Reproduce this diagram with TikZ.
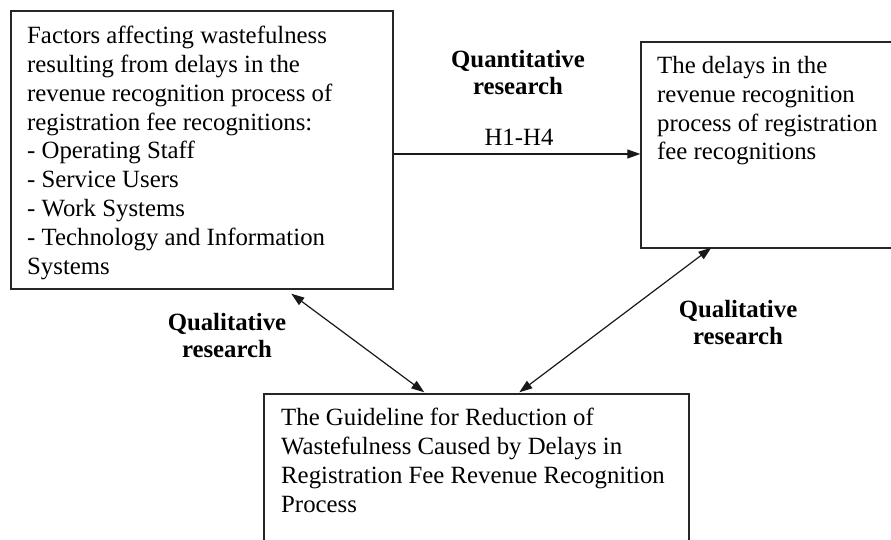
\documentclass[tikz,border=0pt]{standalone}
\usepackage{fontspec}
\setmainfont{Liberation Serif}
\usetikzlibrary{arrows.meta,calc}
\begin{document}
\begin{tikzpicture}[x=1pt,y=-1pt,
  box/.style={draw=black!85,line width=1.4pt,inner sep=0pt,rectangle},
  txt/.style={inner sep=0pt,align=left,anchor=north west,font=\fontsize{24.8}{28.8}\selectfont},
  lbl/.style={inner sep=0pt,align=center,anchor=north,font=\fontsize{24.8}{27}\selectfont\bfseries},
  tip/.style={Triangle[length=13pt,width=9pt]},
  arr/.style={line width=1.2pt,draw=black!90,-{Triangle[length=13pt,width=9pt]}},
  darr/.style={line width=1.2pt,draw=black!90,{Triangle[length=13pt,width=9pt]}-{Triangle[length=13pt,width=9pt]}}]
\useasboundingbox (0,0) rectangle (891,540);
\clip (0,0) rectangle (891,540);
\fill[white] (0,0) rectangle (891,540);
% boxes
\node[box,minimum width=382pt,minimum height=278pt] (L) at (202,150) {};
\node[box,minimum width=260pt,minimum height=206pt] (R) at (771,145) {};
\node[box,minimum width=425pt,minimum height=170pt] (B) at (476.5,479) {};
% texts
\node[txt] (Lt) at (27,26) {Factors affecting wastefulness\\resulting from delays in the\\revenue recognition process of\\registration fee recognitions:\\- Operating Staff\\- Service Users\\- Work Systems\\- Technology and Information\\Systems};
\node[txt] (Rt) at (657,56) {The delays in the\\revenue recognition\\process of registration\\fee recognitions};
\node[txt] (Bt) at (281,408) {The Guideline for Reduction of\\Wastefulness Caused by Delays in\\Registration Fee Revenue Recognition\\Process};
% labels
\node[lbl] (Q1) at (518,50) {Quantitative\\research};
\node[inner sep=0pt,anchor=base,font=\fontsize{24.8}{27}\selectfont] (H) at (519,146) {H1-H4};
\node[lbl] (Q2) at (227,313) {Qualitative\\research};
\node[lbl] (Q3) at (738,300) {Qualitative\\research};
% connectors
\draw[arr] (L.east |- 0,154) -- (R.west |- 0,154);
\draw[darr] ($(L.south west)+(281,4)$) -- ($(B.north west)+(161,-1)$);
\draw[darr] ($(R.south west)+(71,-1)$) -- ($(B.north west)+(256,-1)$);
\end{tikzpicture}
\end{document}
